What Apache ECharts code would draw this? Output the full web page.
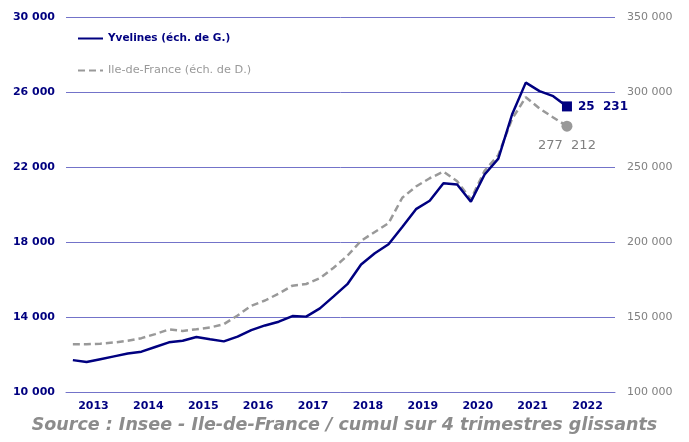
<!DOCTYPE html>
<html>
<head>
<meta charset="utf-8">
<script src="https://cdn.jsdelivr.net/npm/echarts@6/dist/echarts.min.js"></script>
<style>
html, body { margin: 0; padding: 0; background: #fff; }
#chart { width: 689px; height: 442px; }
</style>
</head>
<body>
<div id="chart"></div>
<script>
// années (4 trimestres chacune), données du T1 2013 au T1 2022
var years = ['2013', '2014', '2015', '2016', '2017', '2018', '2019', '2020', '2021', '2022'];
var yvelines = [11700, 11600, 11750, 11900, 12050, 12150, 12400, 12650, 12730, 12930, 12810, 12700,
  12950, 13300, 13550, 13750, 14050, 14020, 14460, 15100, 15750, 16800, 17400, 17880,
  18800, 19750, 20200, 21130, 21070, 20150, 21600, 22450, 24800, 26500, 26050, 25780, 25231];
var idf = [131800, 131800, 132200, 133000, 134100, 135900, 138600, 141700, 140700, 141800, 143000, 145200,
  151000, 157500, 161000, 165600, 170900, 172000, 175900, 182800, 190800, 200800, 206700, 212500,
  229500, 237000, 242500, 246900, 240500, 228500, 247500, 258000, 282000, 296500, 289000, 283000, 277212];
var leftTicks = [10000, 30000, 4000];   // min, max, pas
var rightTicks = [100000, 350000, 50000];

function fmt(v) {
  return String(v).replace(/\B(?=(\d{3})+(?!\d))/g, ' ');
}
// position au milieu du trimestre
function pairs(arr) {
  return arr.map(function (v, i) { return [i + 0.5, v]; });
}

var navy = '#000080';
var grey = '#999999';
var gridColor = '#7373c9';
var font = 'DejaVu Sans';

var chart = echarts.init(document.getElementById('chart'));
chart.setOption({
  animation: false,
  textStyle: { fontFamily: font },
  grid: { left: 66, right: 74, top: 17, bottom: 50 },
  legend: {
    orient: 'vertical',
    left: 72,
    top: 28,
    itemWidth: 25,
    itemHeight: 12,
    itemGap: 21,
    itemStyle: { opacity: 0 },
    textStyle: { fontSize: 11, fontFamily: font },
    data: [
      { name: 'Yvelines (éch. de G.)', textStyle: { color: navy, fontWeight: 'bold', fontSize: 10.5 } },
      { name: 'Ile-de-France (éch. de D.)', textStyle: { color: grey, fontSize: 11.3 } }
    ]
  },
  xAxis: [
    {
      type: 'category',
      data: years,
      boundaryGap: true,
      axisLine: { lineStyle: { color: gridColor } },
      axisTick: { length: 5, lineStyle: { color: gridColor } },
      axisLabel: { color: navy, fontWeight: 'bold', fontSize: 11, margin: 9 }
    },
    {
      type: 'value',
      min: 0,
      max: 40,
      show: false
    }
  ],
  yAxis: [
    {
      type: 'value',
      min: leftTicks[0],
      max: leftTicks[1],
      interval: leftTicks[2],
      position: 'left',
      axisLine: { show: false },
      axisTick: { show: false },
      splitLine: { lineStyle: { color: gridColor, width: 1 } },
      axisLabel: { color: navy, fontWeight: 'bold', fontSize: 11, margin: 11, formatter: fmt }
    },
    {
      type: 'value',
      min: rightTicks[0],
      max: rightTicks[1],
      interval: rightTicks[2],
      position: 'right',
      axisLine: { show: false },
      axisTick: { show: false },
      splitLine: { show: false },
      axisLabel: { color: '#808080', fontSize: 11, margin: 12, formatter: fmt }
    }
  ],
  series: [
    {
      name: 'Ile-de-France (éch. de D.)',
      type: 'line',
      xAxisIndex: 1,
      yAxisIndex: 1,
      symbol: 'none',
      data: pairs(idf),
      lineStyle: { color: grey, width: 2.5, type: [7, 4] },
      itemStyle: { color: grey }
    },
    {
      name: 'Yvelines (éch. de G.)',
      type: 'line',
      xAxisIndex: 1,
      yAxisIndex: 0,
      symbol: 'none',
      data: pairs(yvelines),
      lineStyle: { color: navy, width: 2.5 },
      itemStyle: { color: navy }
    },
    {
      type: 'scatter',
      xAxisIndex: 1,
      yAxisIndex: 1,
      symbol: 'circle',
      symbolSize: 11,
      itemStyle: { color: grey, opacity: 1 },
      data: pairs(idf).slice(-1),
      label: {
        show: true,
        position: 'bottom',
        distance: 7,
        color: '#808080',
        fontSize: 13,
        formatter: function (p) { return fmt(p.value[1]).replace(' ', '  '); }
      }
    },
    {
      type: 'scatter',
      xAxisIndex: 1,
      yAxisIndex: 0,
      symbol: 'rect',
      symbolSize: 10,
      itemStyle: { color: navy, opacity: 1 },
      data: pairs(yvelines).slice(-1),
      label: {
        show: true,
        position: 'right',
        distance: 6,
        color: navy,
        fontWeight: 'bold',
        fontSize: 12,
        formatter: function (p) { return fmt(p.value[1]).replace(' ', '  '); }
      }
    }
  ],
  graphic: [
    {
      type: 'text',
      left: 'center',
      top: 416,
      style: {
        text: 'Source : Insee - Ile-de-France / cumul sur 4 trimestres glissants',
        font: 'italic bold 17.5px "DejaVu Sans"',
        fill: '#8c8c8c'
      }
    }
  ]
});
</script>
</body>
</html>
